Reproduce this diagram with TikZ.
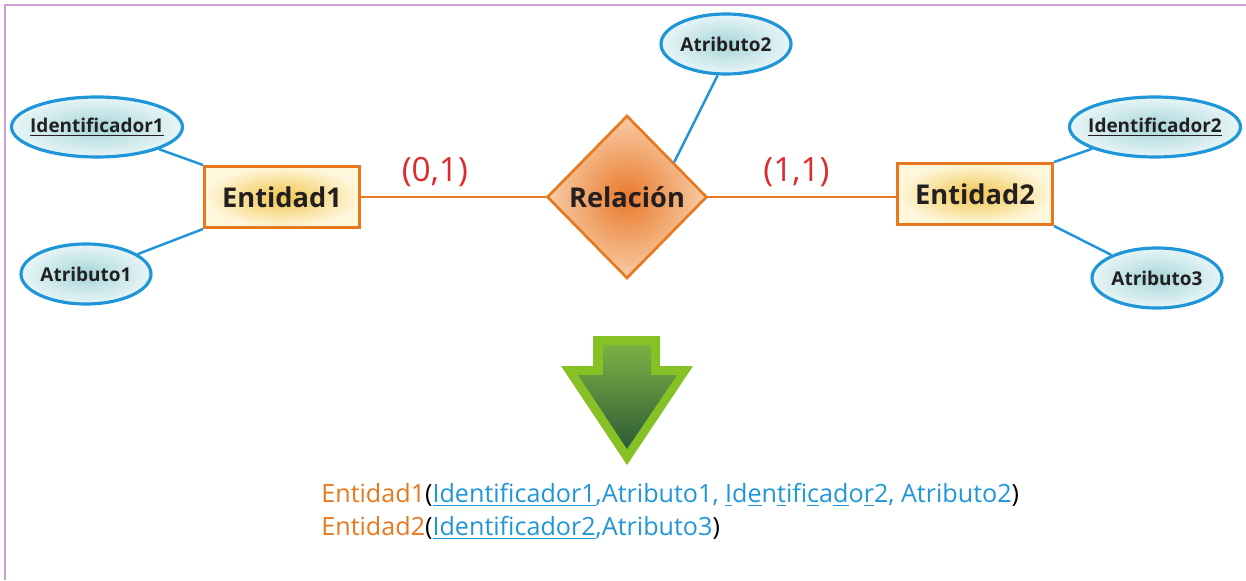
\documentclass[tikz,border=0pt]{standalone}
\usepackage{fontspec}
\setmainfont{Open Sans}
\usetikzlibrary{shapes.geometric, calc}

\definecolor{erorange}{HTML}{E8781E}
\definecolor{erblue}{HTML}{1E96D8}
\definecolor{erred}{HTML}{DE2A2A}
\definecolor{entcore}{HTML}{F0C64E}
\definecolor{entpale}{HTML}{FFF7DC}
\definecolor{relcore}{HTML}{E97A2C}
\definecolor{relpale}{HTML}{F8CCA6}
\definecolor{attcore}{HTML}{A6D6DA}
\definecolor{attpale}{HTML}{E8F5F6}
\definecolor{arrowlime}{HTML}{86C226}
\definecolor{arrowtop}{HTML}{7CB143}
\definecolor{arrowdeep}{HTML}{2D5B38}
\definecolor{framelilac}{HTML}{CFA0D4}
\definecolor{txtdark}{HTML}{231F20}

\begin{document}
\begin{tikzpicture}[
    entity/.style={draw=erorange, line width=1.7pt, minimum width=3.1cm,
                   minimum height=1.22cm, inner color=entcore, outer color=entpale,
                   text=txtdark, font=\bfseries\fontsize{15.5}{18}\selectfont},
    relship/.style={diamond, draw=erorange, line width=1.5pt, inner sep=0pt,
                    minimum width=3.2cm, minimum height=3.26cm,
                    inner color=relcore, outer color=relpale,
                    text=txtdark, font=\bfseries\fontsize{15.5}{18}\selectfont},
    attr/.style={ellipse, draw=erblue, line width=1.8pt, inner ysep=0pt, inner xsep=-4pt,
                 minimum width=2.6cm, minimum height=1.2cm,
                 inner color=attcore, outer color=attpale,
                 text=txtdark, font=\bfseries\fontsize{10.8}{13}\selectfont},
    key/.style={attr, minimum width=3.42cm},
    link/.style={erorange, line width=1.7pt},
    prop/.style={erblue, line width=1.4pt},
    card/.style={text=erred, font=\fontsize{19}{22}\selectfont, inner sep=5pt},
    schema/.style={anchor=west, inner sep=0pt, font=\fontsize{14.3}{17}\selectfont},
]
\useasboundingbox (0,0) rectangle (24.92,11.6);
\draw[framelilac, line width=1.1pt] (24.92,11.5) -- (0.1,11.5) -- (0.1,0);

\node[entity]  (e1)  at (5.64,7.66)  {Entidad1};
\node[relship] (rel) at (12.54,7.66) {Relación};
\node[entity]  (e2)  at (19.5,7.72)  {Entidad2};

\node[key]  (id1) at (1.94,9.06)  {\underline{Identificador1}};
\node[attr] (at1) at (1.72,6.12)  {Atributo1};
\node[attr] (at2) at (14.52,10.72) {Atributo2};
\node[key]  (id2) at (23.1,9.06)  {\underline{Identificador2}};
\node[attr] (at3) at (23.14,6.04) {Atributo3};

\draw[link] (e1.east) -- node[card, above, pos=0.4] {(0,1)} (rel.west);
\draw[link] (rel.east) -- node[card, above, pos=0.47] {(1,1)} (e2.west |- rel.east);

\draw[prop] (id1) -- (e1.north west);
\draw[prop] (at1) -- (e1.south west);
\draw[prop] (at2.255) -- ($(rel.north)!0.58!(rel.east)$);
\draw[prop] (id2) -- (e2.north east);
\draw[prop] (at3) -- (e2.south east);

\fill[arrowlime] (11.86,4.88) -- (13.2,4.88) -- (13.2,4.28) -- (13.86,4.28)
   -- (12.54,2.3) -- (11.22,4.28) -- (11.86,4.28) -- cycle;
\shade[top color=arrowtop, bottom color=arrowdeep] (12.06,4.7) -- (13.02,4.7)
   -- (13.02,4.1) -- (13.54,4.1) -- (12.54,2.62) -- (11.56,4.1) -- (12.06,4.1) -- cycle;

\node[schema] (tab1) at (6.42,1.7) {\textcolor{erorange}{Entidad1}(\textcolor{erblue}{\underline{Identificador1},Atributo1,
   \underline{I}d\underline{e}n\underline{t}ifi\underline{c}a\underline{d}o\underline{r}2, Atributo2})};
\node[schema] (tab2) at (6.42,1.04) {\textcolor{erorange}{Entidad2}(\textcolor{erblue}{\underline{Identificador2},Atributo3})};
\end{tikzpicture}
\end{document}
